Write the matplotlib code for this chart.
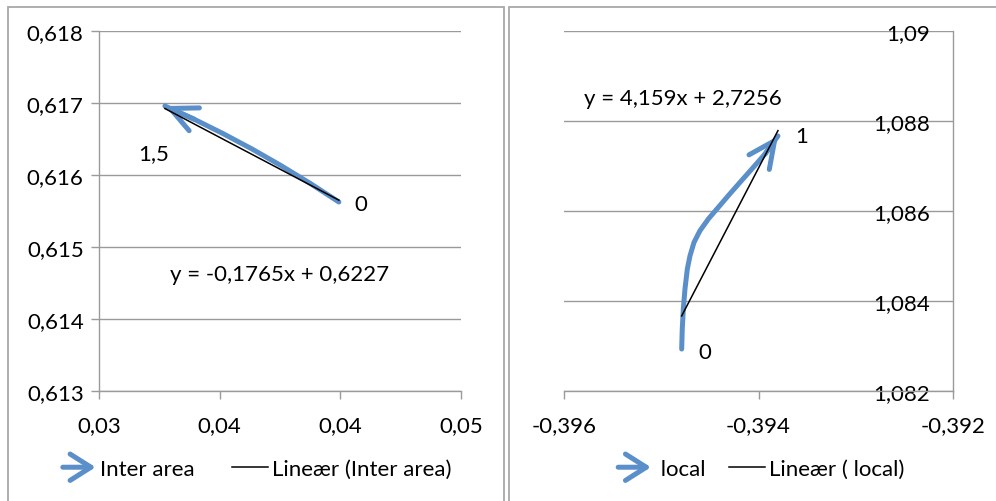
import matplotlib
matplotlib.use("Agg")
import matplotlib.pyplot as plt
from matplotlib.patches import FancyArrowPatch, Rectangle
from matplotlib.lines import Line2D
from matplotlib.legend_handler import HandlerBase
from matplotlib.ticker import FuncFormatter

# ---- data -------------------------------------------------------------
# "Inter area" path, parameter running from 0 to 1,5
inter_x = [0.03994, 0.03874, 0.03754, 0.03634, 0.03514, 0.03394, 0.03273]
inter_y = [0.615625, 0.615886, 0.616131, 0.616361, 0.616575, 0.616775, 0.616958]
inter_end_labels = ["0", "1,5"]
inter_fit = (-0.1765, 0.6227)

# " local" path, parameter running from 0 to 1
local_x = [-0.394790, -0.394784, -0.394773, -0.394756, -0.394732, -0.394704,
           -0.394663, -0.394602, -0.394516, -0.394413, -0.394311, -0.394190,
           -0.394053, -0.393933, -0.393800]
local_y = [1.082933, 1.083378, 1.083822, 1.084267, 1.084711, 1.085007,
           1.085304, 1.085562, 1.085822, 1.086082, 1.086340, 1.086638,
           1.086971, 1.087267, 1.087667]
local_end_labels = ["0", "1"]
local_fit = (4.159, 2.7256)

left_xticks = [0.03, 0.035, 0.04, 0.045]
left_xticklabels = ["0,03", "0,04", "0,04", "0,05"]
left_yticks = [0.613, 0.614, 0.615, 0.616, 0.617, 0.618]
right_xticks = [-0.396, -0.394, -0.392]
right_yticks = [1.082, 1.084, 1.086, 1.088, 1.09]

series_names = ["Inter area", " local"]

# ---- style ------------------------------------------------------------
W, H = 996, 502
BLUE = "#5A8FCA"
AXIS = "#9A9A9A"
BORDER = "#A8A8A8"
FS = 16
plt.rcParams["font.family"] = ["Lato", "DejaVu Sans"]
plt.rcParams["font.size"] = FS

ARROW_STYLE = "->,head_length=1.9,head_width=0.9"


def comma(v):
    return f"{v:g}".replace(".", ",")


def box(x0, y0, x1, y1):
    return [x0 / W, 1 - y1 / H, (x1 - x0) / W, (y1 - y0) / H]


class ArrowHandle(HandlerBase):
    def create_artists(self, legend, orig_handle, xdescent, ydescent,
                       width, height, fontsize, trans):
        y = height / 2 - ydescent
        arr = FancyArrowPatch((-xdescent + 2, y), (-xdescent + width, y),
                              arrowstyle="->,head_length=1.5,head_width=0.95",
                              mutation_scale=10, lw=orig_handle.get_linewidth(),
                              color=orig_handle.get_color(), capstyle="round",
                              joinstyle="round", shrinkA=0, shrinkB=0,
                              transform=trans)
        return [arr]


fig = plt.figure(figsize=(W / 100, H / 100), dpi=100)

# chart-area frames
fig.patches.append(Rectangle((8 / W, -0.1), (504 - 8) / W, 1.1 - 8 / H,
                             transform=fig.transFigure, fill=False,
                             ec=BORDER, lw=1.3))
fig.patches.append(Rectangle((509 / W, -0.1), 0.6, 1.1 - 8 / H,
                             transform=fig.transFigure, fill=False,
                             ec=BORDER, lw=1.3))


def style_axes(ax):
    ax.set_facecolor("none")
    for s in ax.spines.values():
        s.set_color(AXIS)
        s.set_linewidth(1.0)
    ax.grid(axis="y", color=AXIS, lw=1.0)
    ax.set_axisbelow(True)
    ax.tick_params(colors=AXIS, labelcolor="black", width=1.0, length=6,
                   direction="out", labelsize=FS)
    ax.tick_params(axis="x", pad=11)


def draw_path(ax, xs, ys, fit, end_labels, label_offsets):
    ax.plot(xs, ys, color=BLUE, lw=3.6, solid_capstyle="round",
            solid_joinstyle="round", zorder=3)
    ax.annotate("", xy=(xs[-1], ys[-1]), xytext=(xs[-2], ys[-2]),
                arrowprops=dict(arrowstyle=ARROW_STYLE, mutation_scale=10,
                                lw=3.6, color=BLUE, shrinkA=0, shrinkB=0,
                                capstyle="round", joinstyle="round"),
                zorder=3)
    m, b = fit
    x0, x1 = min(xs), max(xs)
    ax.plot([x0, x1], [m * x0 + b, m * x1 + b], color="black", lw=1.1,
            zorder=4)
    for (px, py), txt, off in zip([(xs[0], ys[0]), (xs[-1], ys[-1])],
                                  end_labels, label_offsets):
        ax.annotate(txt, (px, py), xytext=off, textcoords="offset pixels",
                    ha="center", va="center", fontsize=FS)
    return f"y = {comma(m)}x + {comma(b)}"


# ---- left panel -------------------------------------------------------
ax1 = fig.add_axes(box(99, 32, 461, 392))
style_axes(ax1)
ax1.spines["top"].set_visible(False)
ax1.spines["right"].set_visible(False)
ax1.set_xlim(left_xticks[0], left_xticks[-1])
ax1.set_ylim(left_yticks[0], left_yticks[-1])
ax1.set_xticks(left_xticks)
ax1.set_xticklabels(left_xticklabels)
ax1.set_yticks(left_yticks)
ax1.yaxis.set_major_formatter(FuncFormatter(lambda v, p: comma(round(v, 6))))
ax1.tick_params(axis="y", pad=5)
eq1 = draw_path(ax1, inter_x, inter_y, inter_fit, inter_end_labels,
                [(22, -2), (-11, -47)])
ax1.text(0.50, 0.326, eq1, transform=ax1.transAxes, ha="center",
         va="center", fontsize=FS)

# ---- right panel ------------------------------------------------------
ax2 = fig.add_axes(box(564, 32, 953, 392))
style_axes(ax2)
ax2.spines["top"].set_visible(False)
ax2.spines["left"].set_visible(False)
ax2.set_xlim(right_xticks[0], right_xticks[-1])
ax2.set_ylim(right_yticks[0], right_yticks[-1])
ax2.set_xticks(right_xticks)
ax2.xaxis.set_major_formatter(FuncFormatter(lambda v, p: comma(round(v, 6))))
ax2.set_yticks(right_yticks)
ax2.yaxis.set_major_formatter(FuncFormatter(lambda v, p: comma(round(v, 6))))
ax2.yaxis.tick_right()
ax2.tick_params(axis="y", length=0, pad=-16.5)
for lbl in ax2.get_yticklabels():
    lbl.set_horizontalalignment("right")
eq2 = draw_path(ax2, local_x, local_y, local_fit, local_end_labels,
                [(23, -3), (24, 0)])
ax2.text(0.306, 0.814, eq2, transform=ax2.transAxes, ha="center",
         va="center", fontsize=FS)

# ---- legends ----------------------------------------------------------
for name, cx, colsp in [(series_names[0], 256, 1.7), (series_names[1], 760, 1.05)]:
    h_series = Line2D([], [], color=BLUE, lw=3.6)
    h_fit = Line2D([], [], color="black", lw=1.1)
    fig.legend([h_series, h_fit], [name, f"Lineær ({name})"],
               handler_map={h_series: ArrowHandle()},
               loc="center", bbox_to_anchor=(cx / W, 1 - 470 / H),
               ncol=2, frameon=False, fontsize=FS, handlelength=1.6,
               handletextpad=0.2, columnspacing=colsp, borderpad=0)

fig.savefig("out.png", dpi=100)
